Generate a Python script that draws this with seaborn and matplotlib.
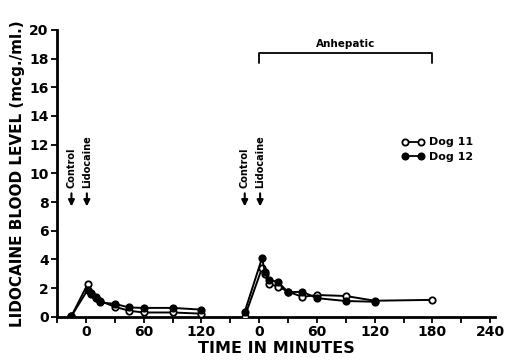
import matplotlib
matplotlib.use("Agg")
import matplotlib.pyplot as plt
from matplotlib.lines import Line2D
import seaborn as sns
import pandas as pd

sns.set_style("ticks")
plt.rcParams['font.family'] = ['DejaVu Sans']
plt.rcParams['font.weight'] = 'bold'
plt.rcParams['text.color'] = 'black'
plt.rcParams['axes.labelcolor'] = 'black'
plt.rcParams['xtick.color'] = 'black'
plt.rcParams['ytick.color'] = 'black'
plt.rcParams['axes.edgecolor'] = 'black'

# Segment offset: second experiment's time 0 sits at 180 on the continuous axis
offset2 = 180

# First experiment (intact liver)
dog11_t1 = [-15, 2, 5, 10, 15, 30, 45, 60, 90, 120]
dog11_v1 = [0.05, 2.3, 1.65, 1.4, 1.1, 0.7, 0.42, 0.3, 0.3, 0.22]
dog12_t1 = [-15, 2, 5, 10, 15, 30, 45, 60, 90, 120]
dog12_v1 = [0.05, 1.9, 1.6, 1.3, 1.0, 0.9, 0.65, 0.62, 0.62, 0.5]

# Second experiment (anhepatic)
dog11_t2 = [-15, 3, 6, 10, 20, 30, 45, 60, 90, 120, 180]
dog11_v2 = [0.0, 3.4, 2.95, 2.3, 2.1, 1.75, 1.39, 1.52, 1.45, 1.12, 1.18]
dog12_t2 = [-15, 3, 6, 10, 20, 30, 45, 60, 90, 120]
dog12_v2 = [0.35, 4.1, 3.1, 2.6, 2.4, 1.72, 1.74, 1.3, 1.1, 1.05]

xtick_pos = [0, 60, 120, 180, 240, 300, 360, 420]
xtick_labels = ["0", "60", "120", "0", "60", "120", "180", "240"]
yticks = list(range(0, 21, 2))

fig = plt.figure(figsize=(5.09, 3.6), dpi=100)
ax = fig.add_axes([0.112, 0.12, 0.8605, 0.797])

series = [
    (dog11_t1, dog11_v1, 0, 'white'),
    (dog12_t1, dog12_v1, 0, 'black'),
    (dog11_t2, dog11_v2, offset2, 'white'),
    (dog12_t2, dog12_v2, offset2, 'black'),
]
for t, v, off, fc in series:
    df = pd.DataFrame({"t": [x + off for x in t], "v": v})
    sns.lineplot(data=df, x="t", y="v", ax=ax, color='black', lw=1.4,
                 marker='o', markersize=4.6, markerfacecolor=fc,
                 markeredgecolor='black', markeredgewidth=1.3, zorder=3)

ax.set_xlim(-30, 425)
ax.set_ylim(0, 20)
ax.set_xticks(xtick_pos)
ax.set_xticklabels(xtick_labels)
ax.set_xticks(list(range(-30, 421, 30)), minor=True)
ax.set_yticks(yticks)
ax.tick_params(axis='both', which='major', labelsize=10, width=1.3, length=4, direction='out', pad=2)
ax.tick_params(axis='x', which='minor', width=1.3, length=4, direction='out')
for lab in ax.get_xticklabels() + ax.get_yticklabels():
    lab.set_fontweight('bold')
for s in ['top', 'right']:
    ax.spines[s].set_visible(False)
for s in ['left', 'bottom']:
    ax.spines[s].set_linewidth(2)

ax.set_xlabel("TIME IN MINUTES", fontsize=11.5, fontweight='bold', labelpad=1)
ax.set_ylabel("LIDOCAINE BLOOD LEVEL (mcg./ml.)", fontsize=11, fontweight='bold', labelpad=3)

# Arrows with labels
for xc in [-15, 1, offset2 - 15, offset2 + 1]:
    ax.annotate("", xy=(xc, 7.5), xytext=(xc, 8.8),
                arrowprops=dict(arrowstyle='-|>', color='black', lw=1.5, mutation_scale=9))
for xc, txt in [(-15, "Control"), (1, "Lidocaine"), (offset2 - 15, "Control"), (offset2 + 1, "Lidocaine")]:
    ax.text(xc, 9.0, txt, rotation=90, ha='center', va='bottom', fontsize=7, fontweight='bold')

# Anhepatic bracket
bx0, bx1, by = offset2, offset2 + 180, 18.4
ax.plot([bx0, bx0, bx1, bx1], [17.7, by, by, 17.7], color='black', lw=1.3, clip_on=False)
ax.text((bx0 + bx1) / 2, by + 0.3, "Anhepatic", ha='center', va='bottom', fontsize=7.5, fontweight='bold')

handles = [
    Line2D([0], [0], color='black', lw=1.3, marker='o', markersize=4.5,
           markerfacecolor='white', markeredgecolor='black', markeredgewidth=1.3),
    Line2D([0], [0], color='black', lw=1.3, marker='o', markersize=4.5,
           markerfacecolor='black', markeredgecolor='black', markeredgewidth=1.3),
]
leg = ax.legend(handles, ["Dog 11", "Dog 12"], loc='upper left', bbox_to_anchor=(0.765, 0.66),
                frameon=False, numpoints=2, handlelength=2.0, handletextpad=0.4,
                fontsize=8, labelspacing=0.4)
for t in leg.get_texts():
    t.set_fontweight('bold')

fig.savefig("out.png", dpi=100)
